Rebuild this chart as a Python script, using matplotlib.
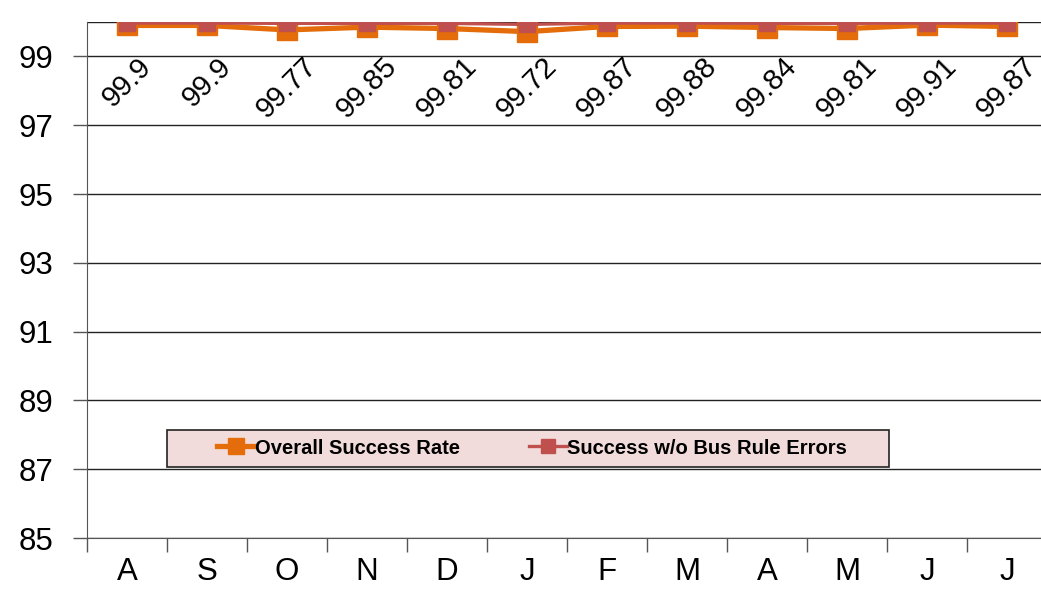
import matplotlib
matplotlib.use("Agg")
import matplotlib.pyplot as plt
from matplotlib.lines import Line2D
from matplotlib.patches import Rectangle
import numpy as np

months = ["A", "S", "O", "N", "D", "J", "F", "M", "A", "M", "J", "J"]
overall = [99.9, 99.9, 99.77, 99.85, 99.81, 99.72, 99.87, 99.88, 99.84, 99.81, 99.91, 99.87]
no_bus_rule = [99.97, 99.97, 99.96, 99.96, 99.96, 99.93, 99.97, 99.97, 99.96, 99.96, 99.97, 99.97]
yticks = [85, 87, 89, 91, 93, 95, 97, 99]

ORANGE = "#E46C0A"
RED = "#C0504D"

plt.rcParams['font.family'] = ['Liberation Sans', 'DejaVu Sans']

W, H = 1041, 594
fig = plt.figure(figsize=(W/100, H/100), dpi=100)
ax = fig.add_axes([87/W, 1-538/H, 960/W, 516/H])

x = np.arange(len(months))
ax.plot(x, overall, color=ORANGE, lw=3.8, marker='s', ms=14.5, mfc=ORANGE, mec=ORANGE, zorder=3,
        solid_joinstyle='round')
ax.plot(x, no_bus_rule, color=RED, lw=2.4, marker='s', ms=11, mfc=RED, mec=RED, zorder=4)

for xi, v in zip(x, overall):
    ax.text(xi, 99.12, f"{v:g}", rotation=45, ha='center', va='top', fontsize=21, color='black')

ax.set_xlim(-0.5, len(months) - 0.5)
ax.set_ylim(85, 100)
ax.set_yticks(yticks)
ax.set_yticklabels([str(t) for t in yticks], fontsize=22.5)
ax.set_xticks(x)
ax.set_xticklabels(months, fontsize=22.5)
ax.set_xticks(np.arange(-0.5, len(months), 1), minor=True)
ax.tick_params(axis='x', which='major', length=0, pad=14)
ax.tick_params(axis='x', which='minor', length=10, width=1, color='#555555', direction='out')
ax.tick_params(axis='y', length=10, width=1, color='#555555', direction='out', pad=14)

for t in yticks + [100]:
    ax.axhline(t, color='#222222', lw=1, zorder=1)

for s in ['top', 'right']:
    ax.spines[s].set_visible(False)
ax.spines['left'].set_color('#555555')
ax.spines['bottom'].set_color('#555555')

# legend box
fig.patches.append(Rectangle((167/W, 1-467/H), (889-167)/W, 37/H, transform=fig.transFigure,
                             facecolor='#F2DCDB', edgecolor='#222222', lw=1.2, zorder=5))

handles = [
    Line2D([0], [0], color=ORANGE, lw=3.8, marker='s', ms=12, mfc=ORANGE, mec=ORANGE),
    Line2D([0], [0], color=RED, lw=2.4, marker='s', ms=10, mfc=RED, mec=RED),
]
leg = fig.legend(handles, ["Overall Success Rate", "Success w/o Bus Rule Errors"],
                 ncol=2, loc='center', bbox_to_anchor=(532/W, 1-448/H),
                 prop={'family': ['Liberation Sans', 'DejaVu Sans'], 'weight': 'bold', 'size': 14.5},
                 frameon=False, handlelength=1.9, handletextpad=0.0,
                 columnspacing=3.4, borderpad=0.3, borderaxespad=0)
leg.set_zorder(6)

fig.savefig("out.png", dpi=100)
